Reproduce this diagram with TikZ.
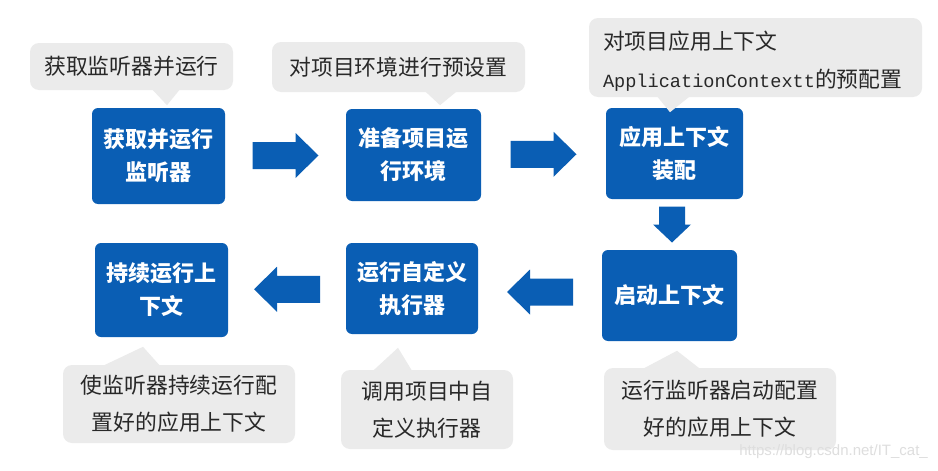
\documentclass[tikz,border=0pt]{standalone}
\usepackage{fontspec}
\setmainfont{Liberation Sans}
\setmonofont{Liberation Mono}
\newfontfamily\cjk{Noto Sans CJK SC}
\usetikzlibrary{calc}
\definecolor{boxblue}{RGB}{10,94,180}
\definecolor{callgrey}{RGB}{235,235,235}
\definecolor{txtgray}{RGB}{40,40,40}
\tikzset{
  stepbox/.style={fill=boxblue, rounded corners=6pt, text=white, align=center, inner sep=0pt,
    font=\cjk\bfseries\fontsize{22}{33}\selectfont},
  callout/.style={fill=callgrey, rounded corners=9pt, text=txtgray, align=center, inner sep=0pt,
    font=\cjk\fontsize{21.8}{37.5}\selectfont},
  harrow/.pic={\fill[boxblue] (-33,-13.5) -- (10,-13.5) -- (10,-22.5) -- (33,0) -- (10,22.5) -- (10,13.5) -- (-33,13.5) -- cycle;},
  varrow/.pic={\fill[boxblue] (-18,-13) -- (0,-13) -- (0,-19) -- (18,0) -- (0,19) -- (0,13) -- (-18,13) -- cycle;}
}
\begin{document}
\begin{tikzpicture}[x=1pt,y=-1pt]
\useasboundingbox[fill=white] (0,0) rectangle (938,471);
% step boxes
\node[stepbox, minimum width=133pt, minimum height=96pt] (b1) at (158.5,156) {获取并运行\\监听器};
\node[stepbox, minimum width=135pt, minimum height=92pt] (b2) at (413.5,155) {准备项目运\\行环境};
\node[stepbox, minimum width=137pt, minimum height=91pt] (b3) at (674.5,153.5) {应用上下文\\装配};
\node[stepbox, minimum width=135pt, minimum height=91pt] (b4) at (669.5,295.5) {启动上下文};
\node[stepbox, minimum width=132pt, minimum height=91pt] (b5) at (412,288.5) {运行自定义\\执行器};
\node[stepbox, minimum width=133pt, minimum height=94pt] (b6) at (161.5,290) {持续运行上\\下文};
% block arrows
\pic at ($(b1.east)!.5!(b2.west)$) {harrow};
\pic at ($(b2.east)!.5!(b3.west)$) {harrow};
\pic[rotate=-90] at ($(b3.south)!.5!(b4.north)$) {varrow};
\pic[rotate=180] at ($(b5.east)!.5!(b4.west)$) {harrow};
\pic[rotate=180] at ($(b6.east)!.5!(b5.west)$) {harrow};
% callouts
\node[callout, minimum width=203pt, minimum height=47pt] (c1) at (131.5,66.5) {获取监听器并运行};
\fill[callgrey] ($(c1.south)+(20.5,-1)$) -- ($(c1.south)+(35.5,15)$) -- ($(c1.south)+(48.5,-1)$) -- cycle;
\node[callout, minimum width=253pt, minimum height=50pt] (c2) at (398.5,67) {对项目环境进行预设置};
\fill[callgrey] ($(c2.south)+(26.5,-1)$) -- ($(c2.south)+(41.5,13)$) -- ($(c2.south)+(58.5,-1)$) -- cycle;
\node[callout, minimum width=333pt, minimum height=79pt] (c3) at (755.5,57.5) {};
\node[callout, fill=none, align=left, anchor=west] (c3t) at ($(c3.west)+(14,3.5)$)
  {对项目应用上下文\\{\ttfamily\fontsize{18.6}{37.5}\selectfont ApplicationContextt}的预配置};
\fill[callgrey] ($(c3.south)+(-98.5,-1)$) -- ($(c3.south)+(-85.5,15)$) -- ($(c3.south)+(-65.5,-1)$) -- cycle;
\node[callout, minimum width=232pt, minimum height=82pt] (c4) at (720,409) {运行监听器启动配置\\好的应用上下文};
\fill[callgrey] ($(c4.north)+(-77,1)$) -- ($(c4.north)+(-43,-17)$) -- ($(c4.north)+(-20,1)$) -- cycle;
\node[callout, minimum width=172pt, minimum height=79pt] (c5) at (427,409.5) {调用项目中自\\定义执行器};
\fill[callgrey] ($(c5.north)+(-54,1)$) -- ($(c5.north)+(-29,-22)$) -- ($(c5.north)+(-15,1)$) -- cycle;
\node[callout, minimum width=232pt, minimum height=78pt] (c6) at (179,404) {使监听器持续运行配\\置好的应用上下文};
\fill[callgrey] ($(c6.north)+(-76,1)$) -- ($(c6.north)+(-36,-18)$) -- ($(c6.north)+(-19,1)$) -- cycle;
% watermark
\node[text=black!13, font=\fontsize{15}{15}\selectfont, anchor=east, inner sep=0pt] (wm) at (928,452) {https://blog.csdn.net/IT\_cat\_};
\end{tikzpicture}
\end{document}
